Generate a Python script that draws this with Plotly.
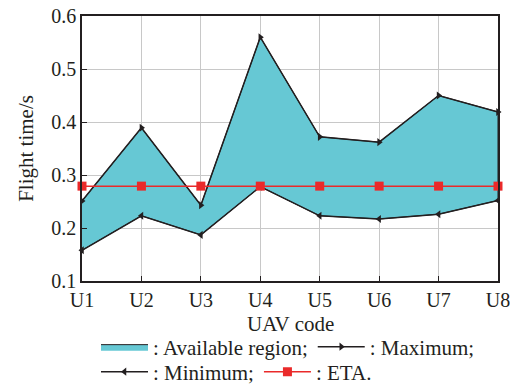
import plotly.graph_objects as go

uav = ["U1", "U2", "U3", "U4", "U5", "U6", "U7", "U8"]
max_time = [0.251, 0.389, 0.243, 0.560, 0.372, 0.362, 0.450, 0.419]
min_time = [0.158, 0.223, 0.187, 0.278, 0.223, 0.217, 0.226, 0.252]
eta = [0.279] * 8
y_ticks = [0.1, 0.2, 0.3, 0.4, 0.5, 0.6]

FONT = "Liberation Serif"
INK = "#231f20"
FILL = "#66c8d4"
RED = "#ea2a2a"

# The page body adds an 8px margin, so the figure is sized to fill the rest.
W, H = 510, 379

fig = go.Figure()

fig.add_trace(go.Scatter(
    x=uav + uav[::-1], y=max_time + min_time[::-1],
    fill="toself", fillcolor=FILL, mode="lines",
    line=dict(color=INK, width=1),
    name=": Available region;", legend="legend", hoverinfo="skip"))

fig.add_trace(go.Scatter(
    x=uav, y=max_time, mode="lines+markers",
    line=dict(color=INK, width=1.5),
    marker=dict(symbol="triangle-right", size=7, color=INK),
    name=": Maximum;", legend="legend", cliponaxis=False))

fig.add_trace(go.Scatter(
    x=uav, y=min_time, mode="lines+markers",
    line=dict(color=INK, width=1.5),
    marker=dict(symbol="triangle-left", size=7, color=INK),
    name=": Minimum;", legend="legend2", cliponaxis=False))

fig.add_trace(go.Scatter(
    x=uav, y=eta, mode="lines+markers",
    line=dict(color=RED, width=1.5),
    marker=dict(symbol="square", size=9, color=RED),
    name=": ETA.", legend="legend2", cliponaxis=False))

axis_common = dict(
    showline=True, linecolor=INK, linewidth=1.5, mirror=True,
    showgrid=True, gridcolor="#c8c8c8", gridwidth=1,
    ticks="inside", ticklen=5, tickcolor=INK, tickwidth=1,
    zeroline=False, ticklabeloverflow="allow",
    tickfont=dict(family=FONT, size=20, color=INK),
)

leg_common = dict(orientation="h", xref="container", yref="container",
                  xanchor="left", yanchor="middle",
                  bgcolor="rgba(0,0,0,0)", borderwidth=0,
                  font=dict(family=FONT, size=21, color=INK),
                  itemwidth=47, tracegroupgap=0)

fig.update_layout(
    width=W, height=H,
    margin=dict(l=74, r=20, t=8, b=106),
    paper_bgcolor="white", plot_bgcolor="white",
    font=dict(family=FONT, size=20, color=INK),
    xaxis=dict(**axis_common, type="category", range=[0, 7],
               categoryorder="array", categoryarray=uav, automargin=False),
    yaxis=dict(**axis_common, range=[0.1, 0.6], tickvals=y_ticks, automargin="left",
               ticktext=[f"{v:.1f}" for v in y_ticks],
               title=dict(text="Flight time/s", font=dict(family=FONT, size=21, color=INK), standoff=12)),
    legend=dict(**leg_common, x=88 / W, y=40 / H),
    legend2=dict(**leg_common, x=88 / W, y=15 / H),
    showlegend=True,
    annotations=[dict(text="UAV code", xref="paper", yref="paper", x=0.5, y=0,
                      xanchor="center", yanchor="middle", yshift=-43, showarrow=False,
                      font=dict(family=FONT, size=21, color=INK))],
)

fig.write_html("out.html")
